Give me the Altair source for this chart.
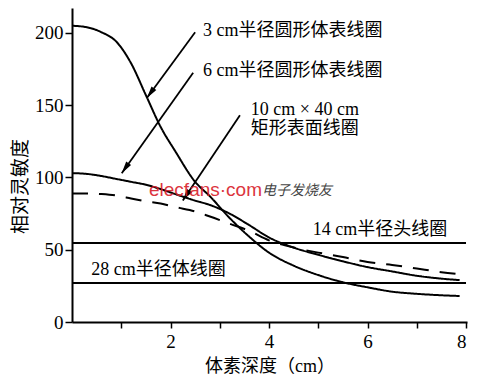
import altair as alt
import pandas as pd

# ---- data ----
depth = [0, 0.3, 0.6, 0.9, 1.2, 1.5, 1.8, 2.1, 2.5, 2.8, 3.2, 3.6, 4.0, 4.5, 5.0, 5.5, 6.0, 6.5, 7.0, 7.5, 7.87]
sens_3cm = [205, 204, 200.5, 194, 179, 157, 135, 118, 97, 87, 72, 59, 48, 39, 32.5, 27.5, 24, 21, 19.5, 18.5, 18]
sens_6cm = [103, 102.5, 101, 99, 97, 95, 92, 88.5, 84, 81, 75, 67, 58.5, 51.5, 46.5, 42, 38, 35, 32, 30, 29]
sens_rect = [89, 89, 88.5, 87.5, 85.5, 83.5, 82, 79.5, 76.5, 73, 68, 63, 56.5, 51.5, 48, 45, 41.5, 39.5, 37, 34.5, 33]
series = ["3cm", "6cm", "rect"]

level_names = ["14cm", "28cm"]
level_values = [54.7, 27.0]
level_span = [0, 8.0]

x_ticks = [1, 2, 3, 4, 5, 6, 7, 8]
y_ticks = [0, 50, 100, 150, 200]

label_texts = ["3 cm半径圆形体表线圈", "6 cm半径圆形体表线圈", "10 cm × 40 cm", "矩形表面线圈",
               "14 cm半径头线圈", "28 cm半径体线圈"]
label_x = [2.66, 2.66, 3.63, 3.63, 4.89, 0.39]
label_y = [201.5, 173.5, 146.5, 133.5, 63.7, 36]

# arrows: start -> tip
arrow_x = [2.50, 2.46, 3.41]
arrow_y = [200.5, 172.5, 143.0]
arrow_x2 = [1.52, 1.01, 2.25]
arrow_y2 = [155.0, 103.0, 84.0]
arrow_angle = [216, 215, 214]

SERIF = "Liberation Serif"
FONT = "Liberation Serif, Noto Sans CJK SC"

curves = pd.DataFrame({
    "depth": depth * 3,
    "sens": sens_3cm + sens_6cm + sens_rect,
    "series": [series[0]] * len(depth) + [series[1]] * len(depth) + [series[2]] * len(depth),
})
levels = pd.DataFrame({"name": level_names, "y": level_values,
                       "x": [level_span[0]] * 2, "x2": [level_span[1]] * 2})
labels = pd.DataFrame({"text": label_texts, "x": label_x, "y": label_y})
arrows = pd.DataFrame({"x": arrow_x, "y": arrow_y, "x2": arrow_x2, "y2": arrow_y2, "angle": arrow_angle})

xscale = alt.Scale(domain=[0, 8.02], nice=False, zero=False)
yscale = alt.Scale(domain=[0, 217.3], nice=False)

xaxis = alt.Axis(values=x_ticks, labelExpr="datum.value % 2 == 0 ? datum.label : ''",
                 title="体素深度（cm）", titleFont=FONT, titleFontSize=18, titleFontWeight="normal",
                 titleColor="black", titlePadding=6,
                 labelFont=SERIF, labelFontSize=19, labelColor="black", labelPadding=4,
                 tickSize=6, tickWidth=1.5, tickColor="black",
                 domainWidth=2, domainColor="black", grid=False)
yaxis = alt.Axis(values=y_ticks, title="相对灵敏度", titleFont=FONT, titleFontSize=19,
                 titleFontWeight="normal", titleColor="black", titleX=-52, titleY=178,
                 titleBaseline="middle", titleAlign="center",
                 labelFont=SERIF, labelFontSize=19, labelColor="black", labelPadding=2,
                 tickSize=7, tickWidth=1.5, tickColor="black",
                 domainWidth=2, domainColor="black", grid=False)

base_x = alt.X("depth:Q", scale=xscale, axis=xaxis)
base_y = alt.Y("sens:Q", scale=yscale, axis=yaxis)

lines = alt.Chart(curves).mark_line(color="black", strokeWidth=2, interpolate="monotone").encode(
    x=base_x, y=base_y,
    detail="series:N",
    strokeDash=alt.StrokeDash("series:N", scale=alt.Scale(domain=series, range=[[1, 0], [1, 0], [16, 11]]),
                              legend=None),
)

rules = alt.Chart(levels).mark_rule(color="black", strokeWidth=2).encode(
    x=alt.X("x:Q", scale=xscale), x2="x2:Q", y=alt.Y("y:Q", scale=yscale))

arrow_lines = alt.Chart(arrows).mark_rule(color="black", strokeWidth=1.8).encode(
    x=alt.X("x:Q", scale=xscale), y=alt.Y("y:Q", scale=yscale), x2="x2:Q", y2="y2:Q")

arrow_heads = alt.Chart(arrows).mark_point(
    shape="M0,0L-0.6,2.4L0.6,2.4Z", filled=True, color="black", opacity=1, size=100, strokeWidth=0
).encode(x=alt.X("x2:Q", scale=xscale), y=alt.Y("y2:Q", scale=yscale), angle=alt.Angle("angle:Q", scale=None))

texts = alt.Chart(labels).mark_text(font=FONT, fontSize=18, align="left", baseline="middle", color="black").encode(
    x=alt.X("x:Q", scale=xscale), y=alt.Y("y:Q", scale=yscale), text="text:N")

wm1 = alt.Chart(pd.DataFrame({"t": ["elecfans·com"]})).mark_text(
    font="Liberation Sans", fontSize=19, color="#d9202a", align="left",
    baseline="middle", opacity=0.9
).encode(x=alt.value(77), y=alt.value(182), text="t:N")
wm2 = alt.Chart(pd.DataFrame({"t": ["电子发烧友"]})).mark_text(
    font="Noto Sans CJK SC", fontSize=14, color="#444444", align="left", baseline="middle",
    fontStyle="italic"
).encode(x=alt.value(190), y=alt.value(183), text="t:N")

chart = alt.layer(rules, lines, arrow_lines, arrow_heads, texts, wm1, wm2).properties(
    width=395, height=314,
    autosize=alt.AutoSizeParams(type="none"),
    padding={"left": 72, "top": 8, "right": 20, "bottom": 62},
    background="white",
).configure_view(stroke=None)

chart.save("out.html", embed_options={"renderer": "svg", "actions": False})
